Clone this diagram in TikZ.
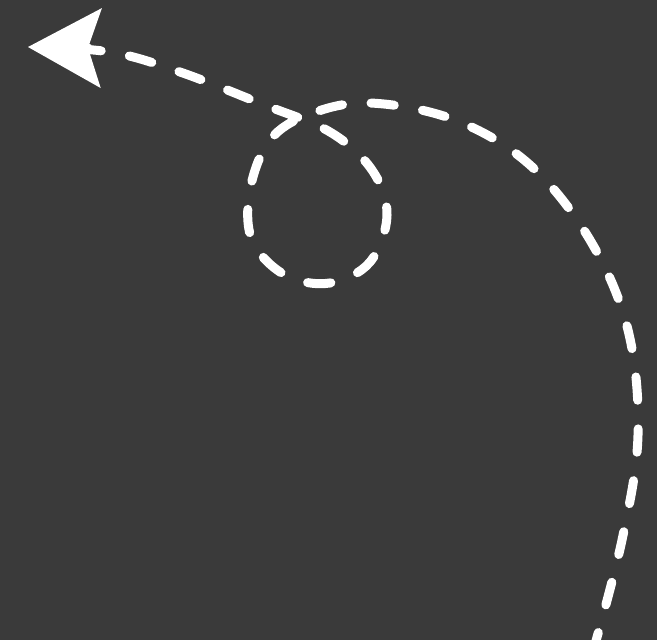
\documentclass[tikz,border=0pt]{standalone}
\usetikzlibrary{arrows.meta}
\definecolor{board}{RGB}{58,58,58}
\begin{document}
\begin{tikzpicture}[x=.03cm,y=-.03cm,
  trail/.style={draw=white,line width=.27cm,line cap=round,dash pattern=on .7cm off .86cm},
  tip/.style={-{Stealth[length=2.2cm,width=2.4cm,inset=.4cm,line width=0pt,fill=white]}}]
\clip (0,0) rectangle (657,640);
\fill[board] (0,0) rectangle (657,640);
% route: up the right side, loop once, off to the left
\draw[trail,tip] plot[smooth,tension=.6] coordinates {(592,655) (622,540) (638,435) (628,330) (590,240) (530,165) (455,120) (370,103) (310,114) (270,140) (250,190) (252,240) (285,275) (330,283) (370,262) (387,215) (372,170) (330,132) (262,104) (180,72) (110,52) (28,47)};
\end{tikzpicture}
\end{document}
